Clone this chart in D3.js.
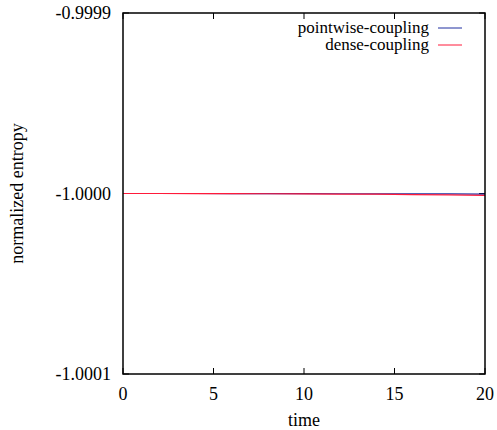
<!DOCTYPE html>
<html>
<head>
<meta charset="utf-8">
<script src="https://cdn.jsdelivr.net/npm/d3@7"></script>
<style>
	body { margin: 0; background: #fff; }
</style>
</head>
<body>
<div id="chart"></div>
<script>
// data
var times = [0, 2, 4, 6, 8, 10, 12, 14, 16, 18, 20];
var pointwise = [-1.0, -1.0, -1.0, -1.00000005, -1.0000001, -1.0000001, -1.00000015, -1.0000002, -1.0000002, -1.00000025, -1.0000003];
var dense = [-1.0, -1.0, -1.00000005, -1.0000001, -1.00000015, -1.0000002, -1.0000003, -1.0000004, -1.0000006, -1.0000008, -1.000001];
var seriesNames = ["pointwise-coupling", "dense-coupling"];
var seriesColors = ["#1f2fa0", "#ff1a3a"];
var xTicks = [0, 5, 10, 15, 20];
var yTicks = [-0.9999, -1.0000, -1.0001];

var width = 497, height = 430;
var margin = {left: 123, right: 12, top: 13, bottom: 56};

var svg = d3.select("#chart")
	.append("svg")
		.attr("width", width)
		.attr("height", height);

function label(xp, yp, anchor, str, size) {
	return svg.append("text")
		.attr("font-family", "Times New Roman")
		.attr("font-size", size || 18)
		.attr("x", xp).attr("y", yp)
		.attr("text-anchor", anchor)
		.text(str);
}

var x = d3.scaleLinear().domain([0, 20]).range([margin.left, width - margin.right]);
var y = d3.scaleLinear().domain([-1.0001, -0.9999]).range([height - margin.bottom, margin.top]);

var tickLen = 6;

// ticks, mirrored on all sides like gnuplot
xTicks.forEach(t => {
	svg.append("line").attr("x1", x(t)).attr("x2", x(t))
		.attr("y1", y.range()[0]).attr("y2", y.range()[0] - tickLen)
		.attr("stroke", "#000");
	svg.append("line").attr("x1", x(t)).attr("x2", x(t))
		.attr("y1", y.range()[1]).attr("y2", y.range()[1] + tickLen)
		.attr("stroke", "#000");
	label(x(t), y.range()[0] + 26, "middle", t);
});

yTicks.forEach(t => {
	svg.append("line").attr("x1", x.range()[0]).attr("x2", x.range()[0] + tickLen)
		.attr("y1", y(t)).attr("y2", y(t))
		.attr("stroke", "#000");
	svg.append("line").attr("x1", x.range()[1]).attr("x2", x.range()[1] - tickLen)
		.attr("y1", y(t)).attr("y2", y(t))
		.attr("stroke", "#000");
	label(x.range()[0] - 12, y(t) + 6, "end", t.toFixed(4));
});

// series
var line = d3.line().x((d, i) => x(times[i])).y(d => y(d));
[pointwise, dense].forEach((s, k) => {
	svg.append("path")
		.datum(s)
		.attr("d", line)
		.attr("fill", "none")
		.attr("stroke", seriesColors[k])
		.attr("stroke-width", 1.2);
});

// frame
svg.append("rect")
	.attr("x", x.range()[0]).attr("y", y.range()[1])
	.attr("width", x.range()[1] - x.range()[0])
	.attr("height", y.range()[0] - y.range()[1])
	.attr("fill", "none")
	.attr("stroke", "#000")
	.attr("stroke-width", 1.5);

// legend
seriesNames.forEach((n, k) => {
	var ly = 28 + k * 17;
	label(429, ly + 5, "end", n, 17);
	svg.append("line")
		.attr("x1", 438).attr("x2", 462)
		.attr("y1", ly).attr("y2", ly)
		.attr("stroke", seriesColors[k]);
});

// axis titles
label((x.range()[0] + x.range()[1]) / 2, 426, "middle", "time");

label(0, 0, "middle", "normalized entropy")
	.attr("x", null).attr("y", null)
	.attr("transform", "translate(23," + ((y.range()[0] + y.range()[1]) / 2) + ") rotate(-90)");
</script>
</body>
</html>
